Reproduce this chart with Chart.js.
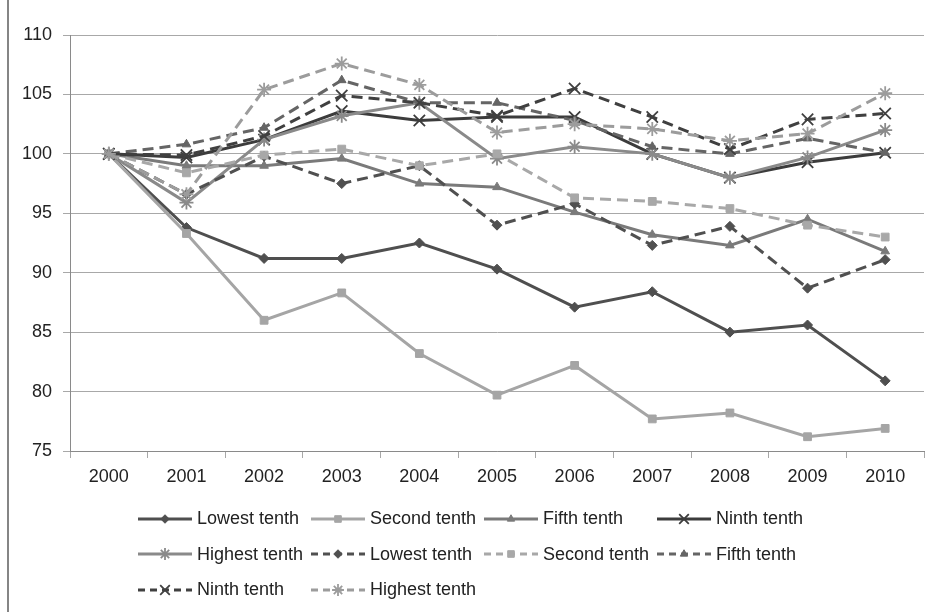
<!DOCTYPE html>
<html>
<head>
<meta charset="utf-8">
<script src="https://cdn.jsdelivr.net/npm/chart.js@4/dist/chart.umd.min.js"></script>
<style>
  body { margin: 0; background: #fff; }
  #wrap { position: relative; width: 935px; height: 612px; overflow: hidden; }
  #frame { position: absolute; left: 7px; top: 0; width: 2px; height: 612px; background: #858585; }
  #legend { position: absolute; left: 138px; top: 501px; display: grid;
    grid-template-columns: repeat(4, 173px); grid-auto-rows: 35.5px;
    font-family: "Liberation Sans", Arial, sans-serif; font-size: 18px; color: #222; }
  .item { display: flex; align-items: center; white-space: nowrap; }
  .item canvas { margin-right: 5px; }
</style>
</head>
<body>
<div id="wrap">
  <canvas id="myChart" width="935" height="612"></canvas>
  <div id="frame"></div>
  <div id="legend"></div>
</div>
<script>
var years = ["2000", "2001", "2002", "2003", "2004", "2005", "2006", "2007", "2008", "2009", "2010"];

// solid lines
var lowestTenth = [100, 93.8, 91.2, 91.2, 92.5, 90.3, 87.1, 88.4, 85.0, 85.6, 80.9];
var secondTenth = [100, 93.3, 86.0, 88.3, 83.2, 79.7, 82.2, 77.7, 78.2, 76.2, 76.9];
var fifthTenth = [100, 99.0, 99.0, 99.6, 97.5, 97.2, 95.1, 93.2, 92.3, 94.5, 91.8];
var ninthTenth = [100, 99.7, 101.2, 103.6, 102.8, 103.1, 103.1, 100.0, 98.0, 99.3, 100.1];
var highestTenth = [100, 95.9, 101.2, 103.2, 104.3, 99.6, 100.6, 100.0, 98.0, 99.7, 102.0];

// dashed lines
var lowestTenthB = [100, 96.6, 99.8, 97.5, 99.0, 94.0, 95.8, 92.3, 93.9, 88.7, 91.1];
var secondTenthB = [100, 98.4, 99.9, 100.4, 99.0, 100.0, 96.3, 96.0, 95.4, 94.0, 93.0];
var fifthTenthB = [100, 100.8, 102.2, 106.2, 104.3, 104.3, 102.8, 100.6, 100.0, 101.3, 100.1];
var ninthTenthB = [100, 99.9, 101.5, 104.9, 104.3, 103.2, 105.5, 103.1, 100.4, 102.9, 103.4];
var highestTenthB = [100, 96.6, 105.4, 107.6, 105.8, 101.8, 102.5, 102.1, 101.1, 101.7, 105.1];

var yTicks = [75, 80, 85, 90, 95, 100, 105, 110];

var font = { family: "Liberation Sans, Arial, sans-serif", size: 18 };
var textColor = "#222";
var gridColor = "#a8a8a8";
var axisColor = "#8a8a8a";
var dash = [11, 6];

function series(label, data, color, style, radius, dashed) {
  return {
    label: label,
    data: data,
    borderColor: color,
    backgroundColor: color,
    borderWidth: 3,
    borderDash: dashed ? dash : [],
    pointStyle: style,
    pointRadius: radius,
    pointBorderWidth: (style === "crossRot" || style === "star") ? 1.8 : 1,
    pointBorderColor: color,
    pointBackgroundColor: color,
    tension: 0,
    fill: false
  };
}

var datasets = [
  series("Lowest tenth", lowestTenth, "#4f4f4f", "rectRot", 5, false),
  series("Second tenth", secondTenth, "#a5a5a5", "rect", 5.5, false),
  series("Fifth tenth", fifthTenth, "#7a7a7a", "triangle", 5, false),
  series("Ninth tenth", ninthTenth, "#3c3c3c", "crossRot", 8, false),
  series("Highest tenth", highestTenth, "#8a8a8a", "star", 7, false),
  series("Lowest tenth", lowestTenthB, "#505050", "rectRot", 5, true),
  series("Second tenth", secondTenthB, "#a8a8a8", "rect", 5.5, true),
  series("Fifth tenth", fifthTenthB, "#656565", "triangle", 5, true),
  series("Ninth tenth", ninthTenthB, "#404040", "crossRot", 8, true),
  series("Highest tenth", highestTenthB, "#9c9c9c", "star", 7, true)
];
// later series on top, like the original
datasets.forEach(function (d, i) { d.order = datasets.length - i; });

new Chart("myChart", {
  type: "line",
  data: { labels: years, datasets: datasets },
  options: {
    responsive: false,
    animation: false,
    layout: { padding: { top: 35, right: 11, left: 0, bottom: 0 } },
    plugins: { legend: { display: false }, tooltip: { enabled: false } },
    scales: {
      x: {
        offset: true,
        grid: { offset: true, drawOnChartArea: false, tickLength: 7, color: gridColor },
        border: { color: axisColor },
        ticks: { font: font, color: textColor, padding: 8, maxRotation: 0 },
        afterFit: function (s) { s.height = 161; }
      },
      y: {
        min: 75,
        max: 110,
        afterBuildTicks: function (s) { s.ticks = yTicks.map(function (v) { return { value: v }; }); },
        grid: { color: gridColor, tickLength: 7 },
        border: { color: axisColor },
        ticks: { font: font, color: textColor, padding: 11 },
        afterFit: function (s) { s.width = 70; }
      }
    }
  }
});

// legend: line + marker, Excel style grid
var legend = document.getElementById("legend");
datasets.forEach(function (d) {
  var item = document.createElement("div");
  item.className = "item";
  var c = document.createElement("canvas");
  c.width = 54; c.height = 20;
  var ctx = c.getContext("2d");
  ctx.strokeStyle = d.borderColor;
  ctx.fillStyle = d.borderColor;
  ctx.lineWidth = 3;
  ctx.setLineDash(d.borderDash.length ? [7, 5] : []);
  ctx.beginPath();
  ctx.moveTo(0, 10);
  ctx.lineTo(54, 10);
  ctx.stroke();
  ctx.setLineDash([]);
  ctx.lineWidth = d.pointBorderWidth;
  Chart.helpers.drawPoint(ctx, {
    pointStyle: d.pointStyle,
    radius: d.pointRadius * 0.85,
    borderWidth: d.pointBorderWidth,
    rotation: 0
  }, 27, 10);
  item.appendChild(c);
  var t = document.createElement("span");
  t.textContent = d.label;
  item.appendChild(t);
  legend.appendChild(item);
});
</script>
</body>
</html>
